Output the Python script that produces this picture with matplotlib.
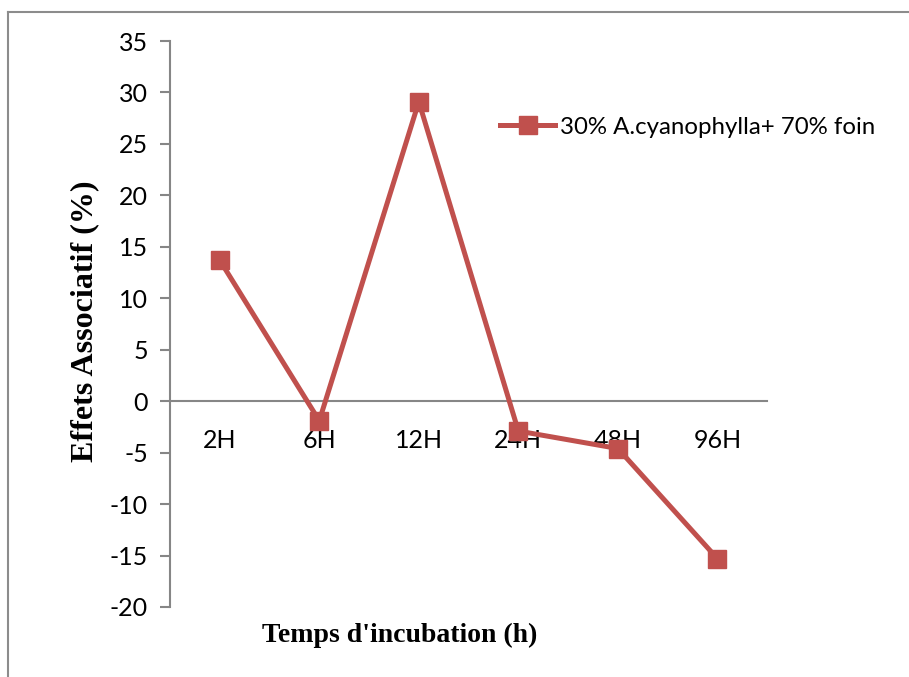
import matplotlib.pyplot as plt
from matplotlib.lines import Line2D

plt.rcParams['axes.unicode_minus'] = False

# temps d'incubation et effets associatifs mesurés
hours = ['2H', '6H', '12H', '24H', '48H', '96H']
effets = [13.7, -1.9, 29.1, -2.9, -4.6, -15.3]
serie = '30% A.cyanophylla+ 70% foin'

rouge = '#C0504D'
gris = '#868686'
fs_tick = 18

fig = plt.figure(figsize=(9.09, 6.77), dpi=100)
ax = fig.add_axes([0.187, 0.1034, 0.657, 0.836])

x = list(range(len(hours)))
ax.plot(x, effets, color=rouge, lw=3.6, marker='s', ms=13.5,
        markeredgecolor=rouge, markerfacecolor=rouge, label=serie,
        solid_joinstyle='miter', zorder=3)

ax.set_xlim(-0.5, len(hours) - 0.5)
ax.set_ylim(-20, 35)
ax.set_yticks(range(-20, 36, 5))

for s in ['top', 'right']:
    ax.spines[s].set_visible(False)
ax.spines['left'].set_color(gris)
ax.spines['left'].set_linewidth(1.5)
ax.spines['bottom'].set_position(('data', 0))
ax.spines['bottom'].set_color(gris)
ax.spines['bottom'].set_linewidth(1.5)

ax.tick_params(axis='y', direction='out', length=7, width=1.5, color=gris,
               labelsize=fs_tick, pad=9)
ax.set_xticks(x)
ax.set_xticklabels(hours)
ax.tick_params(axis='x', length=0, labelsize=fs_tick, pad=20)
for lab in ax.get_xticklabels() + ax.get_yticklabels():
    lab.set_fontfamily('Lato')

ax.set_xlabel("Temps d'incubation (h)", fontfamily='Liberation Serif',
              fontweight='bold', fontsize=20, va='center')
ax.xaxis.set_label_coords(0.384, -0.05)
ax.set_ylabel('Effets Associatif (%)', fontfamily='Liberation Serif',
              fontweight='bold', fontsize=23, va='center')
ax.yaxis.set_label_coords(-0.142, 0.504)

handle = Line2D([], [], color=rouge, lw=3.6, marker='s', ms=13.5,
                markeredgecolor=rouge)
leg = ax.legend([handle], [serie], loc='center left',
                bbox_to_anchor=(0.553, 0.848), frameon=False,
                handlelength=2.29, handletextpad=0.2, borderaxespad=0,
                borderpad=0, prop={'family': 'Lato', 'size': 17.3})

# cadre du graphique
fig.add_artist(Line2D([8 / 909, 8 / 909], [0, 1 - 12 / 677], color='#8c8c8c', lw=1.5))
fig.add_artist(Line2D([8 / 909, 1], [1 - 12 / 677, 1 - 12 / 677], color='#8c8c8c', lw=1.5))

fig.savefig('out.png', dpi=100)
